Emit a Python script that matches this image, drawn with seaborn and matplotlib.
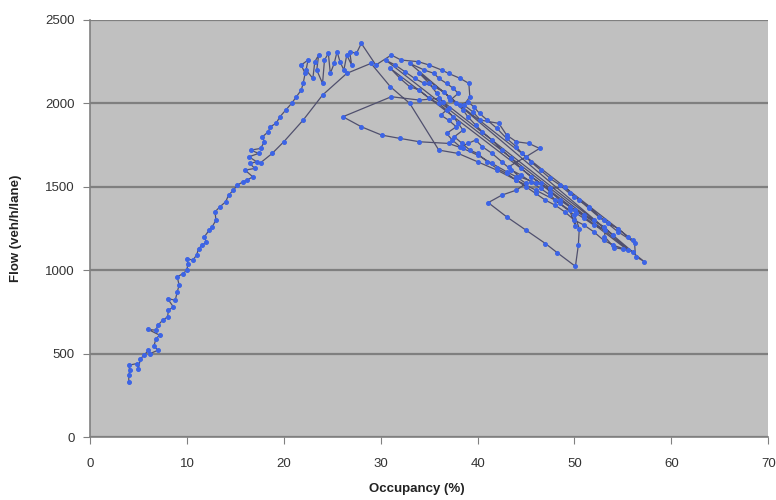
import numpy as np
import pandas as pd
import matplotlib
matplotlib.use('Agg')
import matplotlib.pyplot as plt
import seaborn as sns

# free-flow branch, rising to capacity
occ_rise = [4.0, 4.0, 4.1, 4.0, 4.8, 5.0, 5.2, 5.6, 6.0, 6.2, 7.0, 6.6, 6.8, 7.2, 6.0, 6.8, 7.0, 7.5,
            8.0, 8.1, 8.6, 8.0, 8.8, 9.0, 9.2, 9.0, 9.6, 10.0, 10.1, 10.0, 10.6, 11.0, 11.2, 11.6,
            12.0, 11.8, 12.3, 12.6, 13.0, 12.9, 13.4, 14.0, 14.3, 14.8, 15.2, 15.8, 16.2, 16.8,
            16.0, 17.0, 16.5, 17.2, 16.4, 17.4, 16.6, 17.6, 18.0, 17.8, 18.4, 18.6, 19.2, 19.6,
            20.2, 20.8, 21.3, 21.8, 22.0, 22.2, 21.8, 22.5, 22.3, 23.0, 23.2, 23.6, 23.4, 24.0,
            24.2, 24.6, 24.8, 25.2, 25.5, 25.8, 26.2, 26.5, 27.0, 26.8, 27.5, 28.0]
flow_rise = [330, 370, 400, 430, 440, 410, 470, 490, 520, 500, 520, 545, 590, 610, 645, 640, 670, 700,
             720, 760, 780, 830, 820, 870, 910, 960, 980, 1000, 1040, 1070, 1060, 1090, 1130, 1150,
             1170, 1200, 1240, 1260, 1300, 1350, 1380, 1410, 1450, 1480, 1510, 1530, 1540, 1560,
             1600, 1610, 1640, 1650, 1680, 1700, 1720, 1730, 1770, 1800, 1830, 1860, 1880, 1920,
             1960, 2000, 2040, 2080, 2120, 2180, 2230, 2260, 2200, 2150, 2250, 2290, 2200, 2120,
             2260, 2300, 2180, 2240, 2310, 2250, 2200, 2290, 2230, 2310, 2300, 2360]

# congested branch, several passes
occ_cong = [29.5, 31.1, 32.1, 33.9, 35.0, 36.3, 37.0, 38.2, 39.1, 39.2, 38.6, 39.5, 40.3, 42.2, 43.0,
            44.0, 45.3, 46.4, 45.0, 43.2, 44.3, 46.0, 47.5, 49.0, 50.0, 51.5, 53.0, 54.5, 56.2, 56.3, 57.2,
            30.5, 31.5, 32.5, 33.5, 34.5, 35.5, 36.5, 37.0, 37.8, 38.5, 39.0, 39.8, 40.5, 41.5, 42.5,
            43.5, 44.5, 45.5, 46.5, 47.5, 48.5, 49.5, 50.2, 51.0, 52.0, 53.2, 53.1, 54.1, 55.5,
            31.0, 32.0, 33.0, 34.0, 35.0, 36.0, 36.8, 37.5, 38.0, 38.5, 37.6, 38.4, 39.2, 40.0, 41.0,
            42.0, 43.0, 44.0, 45.0, 46.0, 47.0, 48.0, 49.0, 50.0, 51.0, 52.0, 53.0, 54.0, 55.0, 56.0,
            33.0, 34.5, 35.5, 36.0, 36.8, 37.5, 38.0, 37.2, 38.2, 39.0, 39.6, 40.2, 41.0, 42.0, 43.0,
            44.0, 44.6, 45.5, 46.5, 47.5, 48.5, 49.5, 50.5, 51.5, 52.5, 53.5, 54.5, 55.5, 56.0,
            34.0, 35.0, 35.8, 36.4, 37.0, 36.2, 37.0, 37.8, 36.8, 37.4, 38.2, 39.0, 39.8, 40.5, 41.5,
            42.5, 43.5, 44.5, 45.5, 46.5, 47.5, 48.5, 49.5, 50.1, 50.1, 51.0, 52.0, 53.0, 54.0]
flow_cong = [2230, 2290, 2260, 2250, 2230, 2200, 2180, 2150, 2120, 2040, 1990, 1950, 1900, 1880, 1810,
             1770, 1760, 1730, 1680, 1620, 1560, 1525, 1490, 1500, 1440, 1380, 1300, 1230, 1166, 1082, 1052,
             2260, 2230, 2190, 2150, 2120, 2100, 2070, 2040, 2000, 1960, 1920, 1870, 1830, 1780, 1720,
             1670, 1610, 1560, 1520, 1470, 1420, 1380, 1340, 1310, 1270, 1244, 1202, 1136, 1120,
             2210, 2150, 2100, 2080, 2030, 2000, 1960, 1920, 1880, 1840, 1800, 1760, 1720, 1700, 1650,
             1610, 1580, 1540, 1500, 1460, 1420, 1390, 1350, 1300, 1270, 1230, 1180, 1150, 1130, 1110,
             2240, 2200, 2180, 2150, 2120, 2090, 2060, 2020, 1990, 2010, 1980, 1940, 1900, 1850, 1790,
             1740, 1700, 1650, 1600, 1550, 1510, 1460, 1420, 1370, 1320, 1280, 1250, 1200, 1180,
             2180, 2120, 2060, 2010, 1970, 1930, 1900, 1860, 1820, 1780, 1740, 1760, 1780, 1740, 1700,
             1650, 1600, 1570, 1530, 1490, 1450, 1400, 1360, 1263, 1363, 1330, 1300, 1260, 1210]

# loops and recovery
occ_loop = [36.0, 34.0, 31.1, 26.1, 28.0, 30.1, 32.0, 34.0, 37.0, 38.5, 40.0, 41.5, 43.0, 44.0, 45.0,
            44.0, 42.5, 41.1, 43.0, 45.0, 47.0, 48.2, 50.1, 50.4, 50.5, 50.0, 48.0, 46.0, 44.0, 42.0,
            40.0, 38.0, 36.0, 33.0, 31.0, 29.0, 26.5, 24.0, 22.0, 20.0, 18.8, 17.6]
flow_loop = [2030, 2020, 2040, 1920, 1860, 1810, 1790, 1770, 1760, 1730, 1690, 1640, 1590, 1560, 1520,
             1480, 1450, 1405, 1320, 1240, 1160, 1106, 1023, 1150, 1250, 1330, 1420, 1480, 1540, 1600,
             1650, 1700, 1720, 2000, 2100, 2240, 2180, 2050, 1900, 1770, 1700, 1644]

df = pd.DataFrame({'occ': occ_rise + occ_cong + occ_loop,
                   'flow': flow_rise + flow_cong + flow_loop})

fig = plt.figure(figsize=(7.76, 5.0), dpi=100)
ax = fig.add_axes([0.116, 0.126, 0.874, 0.834])
ax.set_facecolor('#c0c0c0')

sns.lineplot(data=df, x='occ', y='flow', sort=False, estimator=None, ax=ax,
             color='#50506e', linewidth=0.9, marker='o', markersize=2.8,
             markerfacecolor='#3c64e6', markeredgecolor='#3c64e6')

ax.set_xlim(0, 70)
ax.set_ylim(0, 2500)
ax.set_xticks(range(0, 71, 10))
ax.set_yticks(range(0, 2501, 500))
ax.yaxis.grid(True, color='#7f7f7f', linewidth=1.6)
ax.xaxis.grid(False)
ax.set_axisbelow(True)

for s in ['top', 'right']:
    ax.spines[s].set_visible(False)
for s in ['left', 'bottom']:
    ax.spines[s].set_color('#808080')
    ax.spines[s].set_linewidth(1.2)
ax.tick_params(direction='out', length=5, color='#808080', labelsize=9.5,
               labelcolor='#333333')
ax.tick_params(axis='x', pad=10)
ax.tick_params(axis='y', pad=6)
for lab in ax.get_xticklabels() + ax.get_yticklabels():
    lab.set_family('Liberation Sans')

ax.set_xlabel('Occupancy (%)', fontsize=9.5, fontweight='bold', family='Liberation Sans',
              color='#222222', labelpad=9)
ax.xaxis.set_label_coords(0.482, -0.11)
ax.set_ylabel('Flow (veh/h/lane)', fontsize=9.5, fontweight='bold', family='Liberation Sans',
              color='#222222')
ax.yaxis.set_label_coords(-0.1, 0.5)

fig.savefig('out.png', dpi=100)
